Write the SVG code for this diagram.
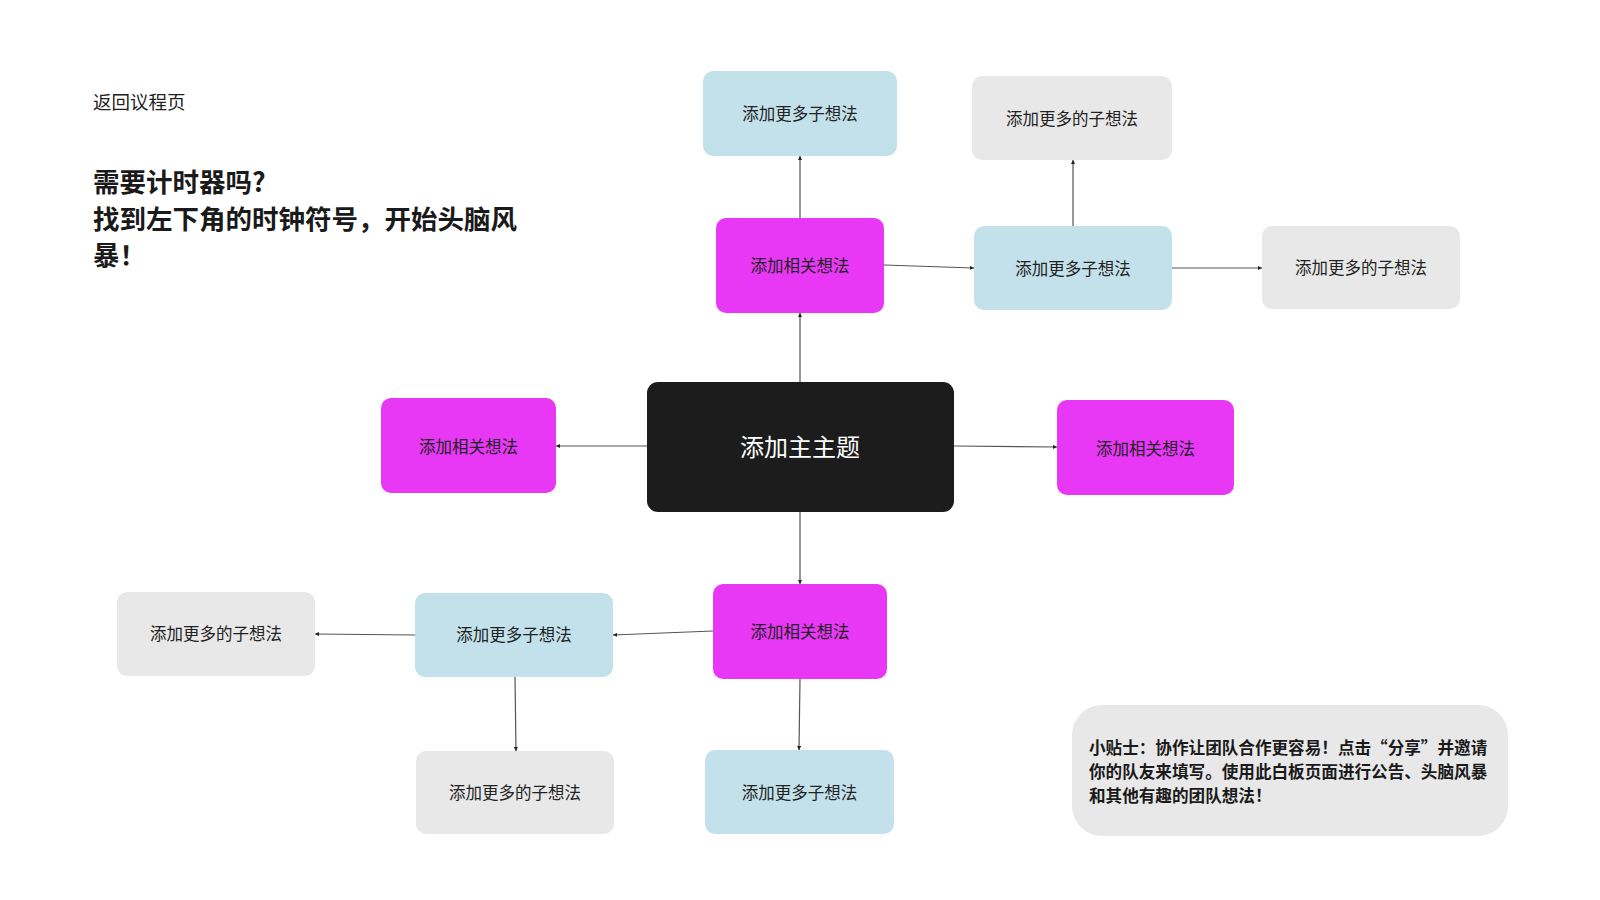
<svg xmlns="http://www.w3.org/2000/svg" width="1600" height="900" viewBox="0 0 1600 900">
<defs>
<style>
text{font-family:"Noto Sans CJK SC","Noto Sans",sans-serif;}
.n{font-size:16.5px;fill:#222;text-anchor:middle;dominant-baseline:central;}
.mag{fill:#E838F6;}
.blue{fill:#C2E1EB;}
.gray{fill:#E8E8E8;}
.c{stroke:#555;stroke-width:1.2;fill:none;marker-end:url(#ah);}
.h{font-size:26.5px;font-weight:bold;fill:#1a1a1a;}
.tip{font-size:16.6px;font-weight:bold;fill:#1a1a1a;}
</style>
<marker id="ah" viewBox="0 0 6 6" refX="6" refY="3" markerWidth="4" markerHeight="4" orient="auto" markerUnits="userSpaceOnUse">
<path d="M0,0 L6,3 L0,6 z" fill="#222"/>
</marker>
</defs>
<rect width="1600" height="900" fill="#fff"/>

<text x="93" y="101" font-size="18.5" fill="#222" dominant-baseline="central">返回议程页</text>
<text class="h" dominant-baseline="central"><tspan x="93" y="180">需要计时器吗?</tspan><tspan x="93" y="217">找到左下角的时钟符号，开始头脑风</tspan><tspan x="93" y="253">暴！</tspan></text>

<g id="connectors">
<line class="c" x1="800" y1="382" x2="800" y2="313"/>
<line class="c" x1="800" y1="218" x2="800" y2="156"/>
<line class="c" x1="884" y1="265" x2="974" y2="268"/>
<line class="c" x1="1073" y1="226" x2="1073" y2="160"/>
<line class="c" x1="1172" y1="268" x2="1262" y2="268"/>
<line class="c" x1="647" y1="446" x2="556" y2="446"/>
<line class="c" x1="954" y1="446" x2="1057" y2="447"/>
<line class="c" x1="800" y1="512" x2="800" y2="584"/>
<line class="c" x1="800" y1="679" x2="799" y2="750"/>
<line class="c" x1="713" y1="631" x2="613" y2="635"/>
<line class="c" x1="415" y1="635" x2="315" y2="634"/>
<line class="c" x1="515" y1="677" x2="516" y2="751"/>
</g>

<g id="main">
<rect x="647" y="382" width="307" height="130" rx="11" fill="#1C1C1C"/>
<text x="800" y="445" font-size="24" fill="#fff" text-anchor="middle" dominant-baseline="central">添加主主题</text>
</g>

<g id="idea-top">
<rect class="mag" x="716" y="218" width="168" height="95" rx="10"/>
<text class="n" x="800" y="264.5">添加相关想法</text>
</g>
<g id="idea-left">
<rect class="mag" x="381" y="398" width="175" height="95" rx="10"/>
<text class="n" x="468.5" y="445.5">添加相关想法</text>
</g>
<g id="idea-right">
<rect class="mag" x="1057" y="400" width="177" height="95" rx="10"/>
<text class="n" x="1145.5" y="447.5">添加相关想法</text>
</g>
<g id="idea-bottom">
<rect class="mag" x="713" y="584" width="174" height="95" rx="10"/>
<text class="n" x="800" y="630.5">添加相关想法</text>
</g>

<g id="sub-top">
<rect class="blue" x="703" y="71" width="194" height="85" rx="10"/>
<text class="n" x="800" y="112.5">添加更多子想法</text>
</g>
<g id="sub-right">
<rect class="blue" x="974" y="226" width="198" height="84" rx="10"/>
<text class="n" x="1073" y="267.5">添加更多子想法</text>
</g>
<g id="sub-left">
<rect class="blue" x="415" y="593" width="198" height="84" rx="10"/>
<text class="n" x="514" y="633.5">添加更多子想法</text>
</g>
<g id="sub-bottom">
<rect class="blue" x="705" y="750" width="189" height="84" rx="10"/>
<text class="n" x="799.5" y="791.5">添加更多子想法</text>
</g>

<g id="more-top-right">
<rect class="gray" x="972" y="76" width="200" height="84" rx="10"/>
<text class="n" x="1072" y="117.5">添加更多的子想法</text>
</g>
<g id="more-far-right">
<rect class="gray" x="1262" y="226" width="198" height="83" rx="10"/>
<text class="n" x="1361" y="267">添加更多的子想法</text>
</g>
<g id="more-left">
<rect class="gray" x="117" y="592" width="198" height="84" rx="10"/>
<text class="n" x="216" y="632.5">添加更多的子想法</text>
</g>
<g id="more-bottom-left">
<rect class="gray" x="416" y="751" width="198" height="83" rx="10"/>
<text class="n" x="515" y="791.5">添加更多的子想法</text>
</g>

<g id="tip">
<rect x="1072" y="705" width="436" height="131" rx="30" fill="#E8E8E8"/>
<text class="tip" dominant-baseline="central"><tspan x="1089" y="747">小贴士：协作让团队合作更容易！点击“分享”并邀请</tspan><tspan x="1089" y="771">你的队友来填写。使用此白板页面进行公告、头脑风暴</tspan><tspan x="1089" y="795">和其他有趣的团队想法！</tspan></text>
</g>
</svg>
